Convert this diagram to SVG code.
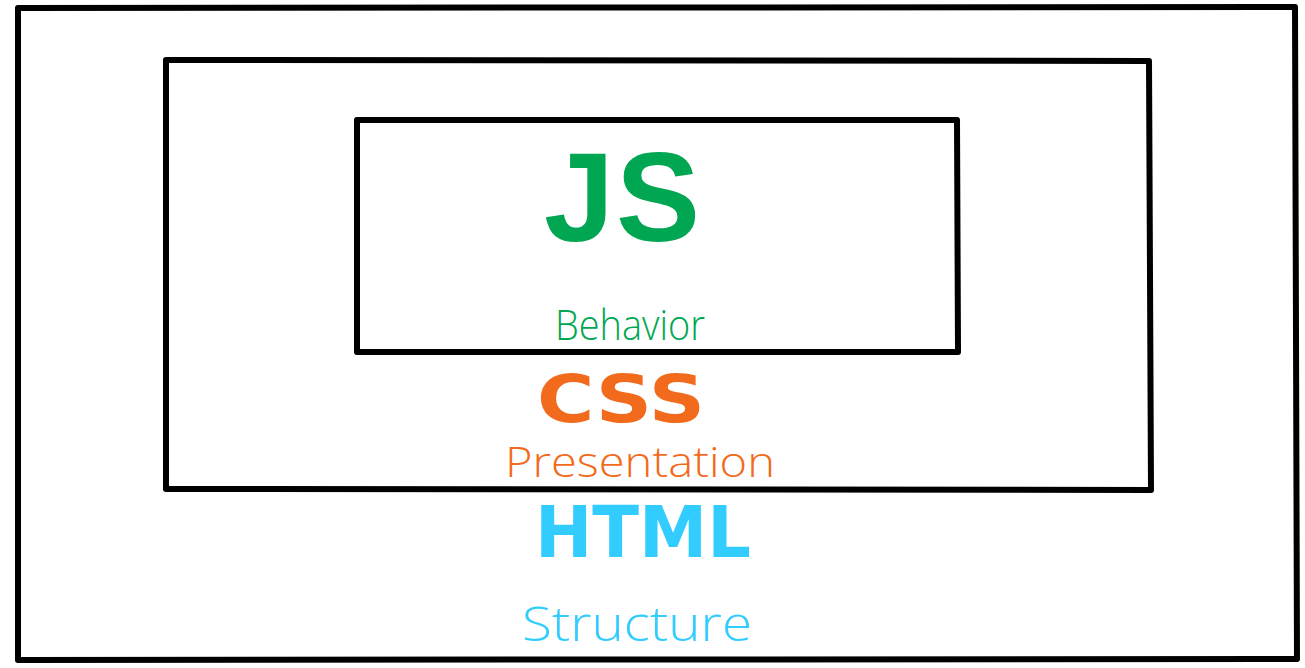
<svg xmlns="http://www.w3.org/2000/svg" width="1305" height="668" viewBox="0 0 1305 668">
<style>
.box{fill:none;stroke:#000;stroke-width:6;stroke-linejoin:round;stroke-linecap:round}
.big{font-family:"DejaVu Sans","Open Sans",sans-serif;font-weight:bold}
.js{font-family:"Liberation Sans",Arial,sans-serif;font-weight:bold}
.small{font-family:"Open Sans","DejaVu Sans",sans-serif;font-weight:300}
</style>
<rect width="1305" height="668" fill="#fff"/>
<g id="html">
<path class="box" d="M18,8 L1295,7 L1297,659 L18,660 Z"/>
<text class="big" x="643" y="557" font-size="72" fill="#33ccff" text-anchor="middle" textLength="216" lengthAdjust="spacingAndGlyphs">HTML</text>
<text class="small" x="637" y="641" font-size="48" fill="#33ccff" text-anchor="middle" textLength="230" lengthAdjust="spacingAndGlyphs">Structure</text>
</g>
<g id="css">
<path class="box" d="M166,60 L1149,61 L1151,490 L166,489 Z"/>
<text class="big" x="621" y="422" font-size="66" fill="#f26b1d" text-anchor="middle" textLength="168" lengthAdjust="spacingAndGlyphs">CSS</text>
<text class="small" x="640" y="477" font-size="42" fill="#f26b1d" text-anchor="middle" textLength="270" lengthAdjust="spacingAndGlyphs">Presentation</text>
</g>
<g id="js">
<path class="box" d="M357,120 L957,120 L958,352 L357,352 Z"/>
<text class="js" x="622" y="241" font-size="126" fill="#00a651" text-anchor="middle" textLength="156" lengthAdjust="spacing">JS</text>
<text class="small" x="630" y="340" font-size="42" fill="#00a651" text-anchor="middle" textLength="150" lengthAdjust="spacingAndGlyphs">Behavior</text>
</g>
<g id="connectors"/>
</svg>
